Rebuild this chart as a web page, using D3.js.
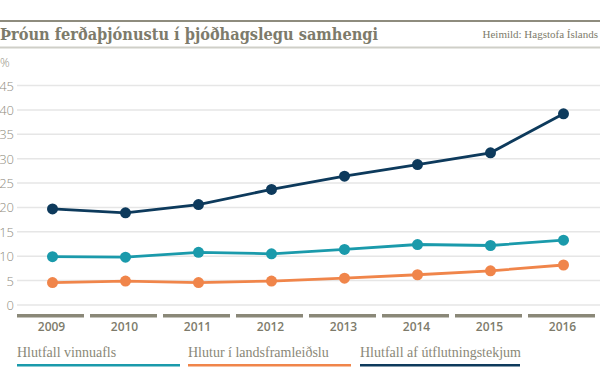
<!DOCTYPE html>
<html>
<head>
<meta charset="utf-8">
<script src="https://cdn.jsdelivr.net/npm/d3@7"></script>
<style>
  body { margin: 0; background: #fff; }
  svg { display: block; }
</style>
</head>
<body>
<svg id="chart" width="600" height="390"></svg>
<script>
const years = ["2009", "2010", "2011", "2012", "2013", "2014", "2015", "2016"];
const vinnuafl = [9.9, 9.8, 10.8, 10.5, 11.4, 12.4, 12.2, 13.3];
const landsframl = [4.6, 4.9, 4.6, 4.9, 5.5, 6.2, 7.0, 8.2];
const utflutningur = [19.7, 18.9, 20.6, 23.7, 26.4, 28.8, 31.2, 39.2];
const yTicks = [0, 5, 10, 15, 20, 25, 30, 35, 40, 45];
const seriesNames = ["Hlutfall vinnuafls", "Hlutur í landsframleiðslu", "Hlutfall af útflutningstekjum"];

const colors = ["#1a9aab", "#f0854a", "#0d3a5c"];
const grey = "#7d7b6b";

const svg = d3.select("#chart");
const width = 600;

// header
svg.append("rect").attr("x", 0).attr("y", 20).attr("width", width).attr("height", 2).attr("fill", "#8e8c7e");
svg.append("rect").attr("x", 0).attr("y", 46.5).attr("width", width).attr("height", 2).attr("fill", "#cfcfc8");
const title = svg.append("text")
	.attr("x", 0).attr("y", 39.5)
	.style("font-family", "'DejaVu Serif Condensed', 'DejaVu Serif'")
	.style("font-weight", "bold")
	.style("font-size", "16.5px")
	.attr("fill", grey)
	.text("Þróun ferðaþjónustu í þjóðhagslegu samhengi");
// keep it to the width of the original heading
const tw = title.node().getComputedTextLength();
if (tw > 380) title.attr("textLength", 378).attr("lengthAdjust", "spacingAndGlyphs");

svg.append("text")
	.attr("x", 598).attr("y", 38)
	.attr("text-anchor", "end")
	.style("font", "11px 'Liberation Serif'")
	.attr("fill", grey)
	.text("Heimild: Hagstofa Íslands");

// scales
const x = d3.scaleBand().domain(years).range([16, 600]);
const y = d3.scaleLinear().domain([0, 45]).range([305, 85.5]);
const cx = (d) => x(d) + x.bandwidth() / 2;

// grid
const g = svg.append("g");
g.selectAll(".grid")
	.data(yTicks)
	.enter()
	.append("line")
	.attr("x1", 17).attr("x2", 600)
	.attr("y1", (d) => y(d)).attr("y2", (d) => y(d))
	.attr("stroke", "#e6e6e6")
	.attr("stroke-width", 1.5);

g.selectAll(".ylab")
	.data(yTicks)
	.enter()
	.append("text")
	.attr("x", 14).attr("y", (d) => y(d) + 5)
	.attr("text-anchor", "end")
	.style("font", "300 13px 'Open Sans'")
	.attr("fill", "#8f8d80")
	.text((d) => d);

svg.append("text")
	.attr("x", 0).attr("y", 67)
	.style("font", "300 12px 'Open Sans'")
	.attr("fill", "#8f8d80")
	.text("%");

// x axis bars
g.selectAll(".xbar")
	.data(years)
	.enter()
	.append("rect")
	.attr("x", (d) => x(d) + 1)
	.attr("y", 314)
	.attr("width", x.bandwidth() - 6)
	.attr("height", 3.5)
	.attr("fill", "#8a8878");

g.selectAll(".xlab")
	.data(years)
	.enter()
	.append("text")
	.attr("x", (d) => cx(d) - 1)
	.attr("y", 331)
	.attr("text-anchor", "middle")
	.style("font", "600 12px 'Open Sans'")
	.attr("fill", grey)
	.text((d) => d);

// lines
const allSeries = [vinnuafl, landsframl, utflutningur];
const line = d3.line().x((d, i) => cx(years[i])).y((d) => y(d));

allSeries.forEach((vals, k) => {
	g.append("path")
		.attr("d", line(vals))
		.attr("fill", "none")
		.attr("stroke", colors[k])
		.attr("stroke-width", 2.8);
	g.selectAll(".dot" + k)
		.data(vals)
		.enter()
		.append("circle")
		.attr("cx", (d, i) => cx(years[i]))
		.attr("cy", (d) => y(d))
		.attr("r", 5.5)
		.attr("fill", colors[k]);
});

// legend
const legX = [17, 188, 360];
const legW = [163, 163, 160];
seriesNames.forEach((name, k) => {
	svg.append("text")
		.attr("x", legX[k]).attr("y", 357)
		.style("font", "14px 'Liberation Serif'")
		.attr("fill", "#8a8878")
		.text(name);
	svg.append("rect")
		.attr("x", legX[k]).attr("y", 364)
		.attr("width", legW[k]).attr("height", 2.5)
		.attr("fill", colors[k]);
});
</script>
</body>
</html>
